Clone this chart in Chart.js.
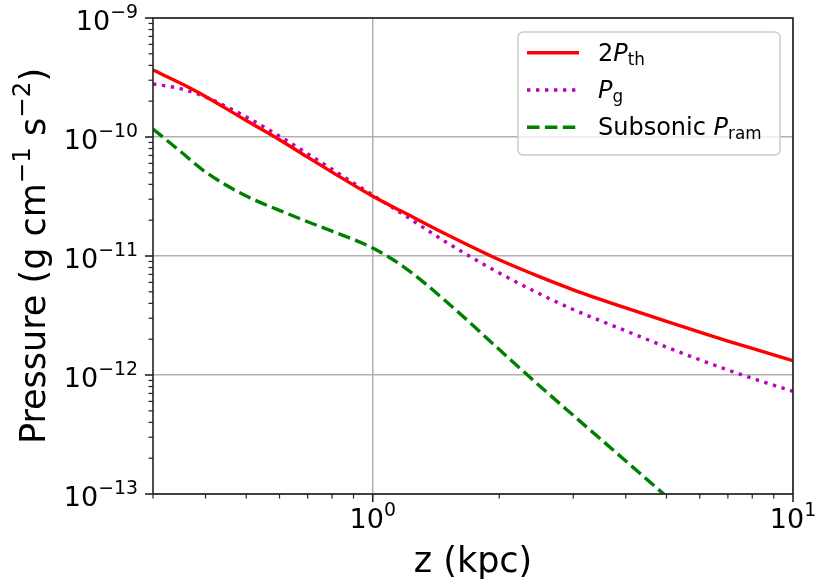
<!DOCTYPE html>
<html>
<head>
<meta charset="utf-8">
<script src="https://cdn.jsdelivr.net/npm/chart.js@4.4.1/dist/chart.umd.min.js"></script>
<style>
  body { margin: 0; background: #fff; }
</style>
</head>
<body>
<canvas id="PressureChart" width="816" height="584"></canvas>
<script>
// z in kpc
const zValues = [0.3, 0.35, 0.4, 0.5, 0.6, 0.7, 0.8, 1.0, 1.2, 1.5, 2, 2.5, 3, 4, 5, 6, 7, 8, 10];
const thermalX2 = [3.66e-10, 2.815e-10, 2.194e-10, 1.376e-10, 9.49e-11, 6.77e-11, 5.07e-11, 3.18e-11, 2.276e-11, 1.516e-11,
  9.29e-12, 6.67e-12, 5.20e-12, 3.66e-12, 2.82e-12, 2.29e-12, 1.93e-12, 1.67e-12, 1.32e-12];
const gasPressure = [2.79e-10, 2.54e-10, 2.17e-10, 1.476e-10, 1.016e-10, 7.24e-11, 5.36e-11, 3.25e-11, 2.16e-11, 1.298e-11,
  7.20e-12, 4.79e-12, 3.55e-12, 2.35e-12, 1.716e-12, 1.342e-12, 1.102e-12, 9.38e-13, 7.28e-13];

const zSubsonic = [0.3, 0.35, 0.4, 0.5, 0.6, 0.7, 0.8, 1.0, 1.2, 1.5, 2, 2.5, 3, 4, 5, 5.5];
const subsonicRam = [1.168e-10, 7.48e-11, 5.08e-11, 3.19e-11, 2.42e-11, 1.94e-11, 1.616e-11, 1.167e-11, 7.85e-12, 4.11e-12,
  1.638e-12, 8.05e-13, 4.58e-13, 1.894e-13, 9.53e-14, 7.11e-14];

const xMajor = [1, 10];
const xMinor = [0.3, 0.4, 0.5, 0.6, 0.7, 0.8, 0.9, 2, 3, 4, 5, 6, 7, 8, 9];
const yMajor = [1e-13, 1e-12, 1e-11, 1e-10, 1e-9];
const yExponents = [-13, -12, -11, -10, -9];
const xExponents = [0, 1];

// legend labels: [text, style] with style '' | 'it' | 'sub'
const legendLabels = [
  [['2', ''], ['P', 'it'], ['th', 'sub']],
  [['P', 'it'], ['g', 'sub']],
  [['Subsonic ', ''], ['P', 'it'], ['ram', 'sub']]
];

const FONT = '"DejaVu Sans", "Liberation Sans", sans-serif';
const yMinor = [];
yMajor.slice(0, -1).forEach(m => { for (let k = 2; k <= 9; k++) yMinor.push(m * k); });

function toPoints(xs, ys) {
  return xs.map((x, i) => ({ x: x, y: ys[i] }));
}

function isMajor(v, list) {
  return list.some(m => Math.abs(v / m - 1) < 1e-6);
}

// text made of parts: [text, style], style '' | 'it' | 'sub' | 'sup'
function richWidth(ctx, parts, size) {
  let w = 0;
  parts.forEach(([t, st]) => {
    const s = (st === 'sub' || st === 'sup') ? size * 0.7 : size;
    ctx.font = (st === 'it' ? 'italic ' : '') + s + 'px ' + FONT;
    w += ctx.measureText(t).width;
  });
  return w;
}

function drawRich(ctx, parts, x, y, size, align) {
  const w = richWidth(ctx, parts, size);
  let cx = align === 'center' ? x - w / 2 : align === 'right' ? x - w : x;
  ctx.textAlign = 'left';
  ctx.textBaseline = 'alphabetic';
  parts.forEach(([t, st]) => {
    const s = (st === 'sub' || st === 'sup') ? size * 0.7 : size;
    ctx.font = (st === 'it' ? 'italic ' : '') + s + 'px ' + FONT;
    let dy = 0;
    if (st === 'sup') dy = -size * 0.43;
    if (st === 'sub') dy = size * 0.17;
    ctx.fillText(t, cx, y + dy);
    cx += ctx.measureText(t).width;
  });
}

const axesDecor = {
  id: 'axesDecor',
  afterDraw(chart) {
    const ctx = chart.ctx;
    const a = chart.chartArea;
    const xs = chart.scales.x;
    const ys = chart.scales.y;
    ctx.save();
    ctx.fillStyle = '#000';

    // tick marks, outward
    ctx.strokeStyle = '#222';
    const tick = (x1, y1, x2, y2, w) => {
      ctx.lineWidth = w;
      ctx.beginPath();
      ctx.moveTo(x1, y1);
      ctx.lineTo(x2, y2);
      ctx.stroke();
    };
    xMajor.forEach(v => { const px = xs.getPixelForValue(v); tick(px, a.bottom, px, a.bottom + 8, 1.6); });
    xMinor.forEach(v => { const px = xs.getPixelForValue(v); tick(px, a.bottom, px, a.bottom + 4.5, 1.2); });
    yMajor.forEach(v => { const py = ys.getPixelForValue(v); tick(a.left, py, a.left - 8, py, 1.6); });
    yMinor.forEach(v => { const py = ys.getPixelForValue(v); tick(a.left, py, a.left - 4.5, py, 1.2); });

    // spines
    ctx.lineWidth = 1.6;
    ctx.strokeRect(a.left, a.top, a.right - a.left, a.bottom - a.top);

    // tick labels
    yMajor.forEach((v, i) => {
      const py = ys.getPixelForValue(v);
      drawRich(ctx, [['10', ''], ['\u2212' + Math.abs(yExponents[i]), 'sup']], a.left - 15, py + 12, 27, 'right');
    });
    xMajor.forEach((v, i) => {
      const px = xs.getPixelForValue(v);
      drawRich(ctx, [['10', ''], [String(xExponents[i]), 'sup']], px, a.bottom + 34, 27, 'center');
    });

    // axis titles
    drawRich(ctx, [['z (kpc)', '']], (a.left + a.right) / 2, 572, 35, 'center');
    ctx.save();
    ctx.translate(45, (a.top + a.bottom) / 2);
    ctx.rotate(-Math.PI / 2);
    drawRich(ctx, [['Pressure (g cm', ''], ['\u22121', 'sup'], [' s', ''], ['\u22122', 'sup'], [')', '']], 0, 0, 35, 'center');
    ctx.restore();

    // legend
    ctx.beginPath();
    ctx.roundRect(518, 32, 262, 123, 5);
    ctx.fillStyle = 'rgba(255,255,255,0.8)';
    ctx.fill();
    ctx.strokeStyle = '#cccccc';
    ctx.lineWidth = 1.5;
    ctx.stroke();
    chart.data.datasets.forEach((ds, i) => {
      const rowY = 52.7 + i * 37.3;
      ctx.strokeStyle = ds.borderColor;
      ctx.lineWidth = ds.borderWidth;
      ctx.setLineDash(ds.borderDash || []);
      ctx.beginPath();
      ctx.moveTo(527, rowY);
      ctx.lineTo(579, rowY);
      ctx.stroke();
      ctx.setLineDash([]);
      ctx.fillStyle = '#000';
      drawRich(ctx, legendLabels[i], 598, rowY + 8, 24, 'left');
    });
    ctx.restore();
  }
};

function logAxis(min, max, major, minor, fitKey, fitSize) {
  return {
    type: 'logarithmic',
    min: min,
    max: max,
    border: { display: false },
    ticks: { display: false },
    grid: {
      drawTicks: false,
      lineWidth: 1.5,
      color: c => (c.tick && isMajor(c.tick.value, major)) ? '#b0b0b0' : 'rgba(0,0,0,0)'
    },
    afterBuildTicks: scale => {
      scale.ticks = major.concat(minor).sort((p, q) => p - q).map(v => ({ value: v }));
    },
    afterFit: scale => { scale[fitKey] = fitSize; }
  };
}

new Chart(document.getElementById('PressureChart').getContext('2d'), {
  type: 'line',
  data: {
    datasets: [
      {
        label: '2P_th',
        data: toPoints(zValues, thermalX2),
        borderColor: '#ff0000',
        borderWidth: 3.4
      },
      {
        label: 'P_g',
        data: toPoints(zValues, gasPressure),
        borderColor: '#bf00bf',
        borderWidth: 3.4,
        borderDash: [3.4, 5.6]
      },
      {
        label: 'Subsonic P_ram',
        data: toPoints(zSubsonic, subsonicRam),
        borderColor: '#008000',
        borderWidth: 3.4,
        borderDash: [12.5, 5.4]
      }
    ]
  },
  options: {
    responsive: false,
    animation: false,
    devicePixelRatio: 1,
    layout: { padding: { top: 18, right: 23, left: 0, bottom: 0 } },
    elements: {
      point: { radius: 0 },
      line: { cubicInterpolationMode: 'monotone', fill: false, borderCapStyle: 'butt' }
    },
    datasets: { line: { clip: 0 } },
    plugins: { legend: { display: false }, tooltip: { enabled: false } },
    scales: {
      x: logAxis(0.3, 10, xMajor, xMinor, 'height', 90),
      y: logAxis(1e-13, 1e-9, yMajor, yMinor, 'width', 153)
    }
  },
  plugins: [axesDecor]
});
</script>
</body>
</html>
